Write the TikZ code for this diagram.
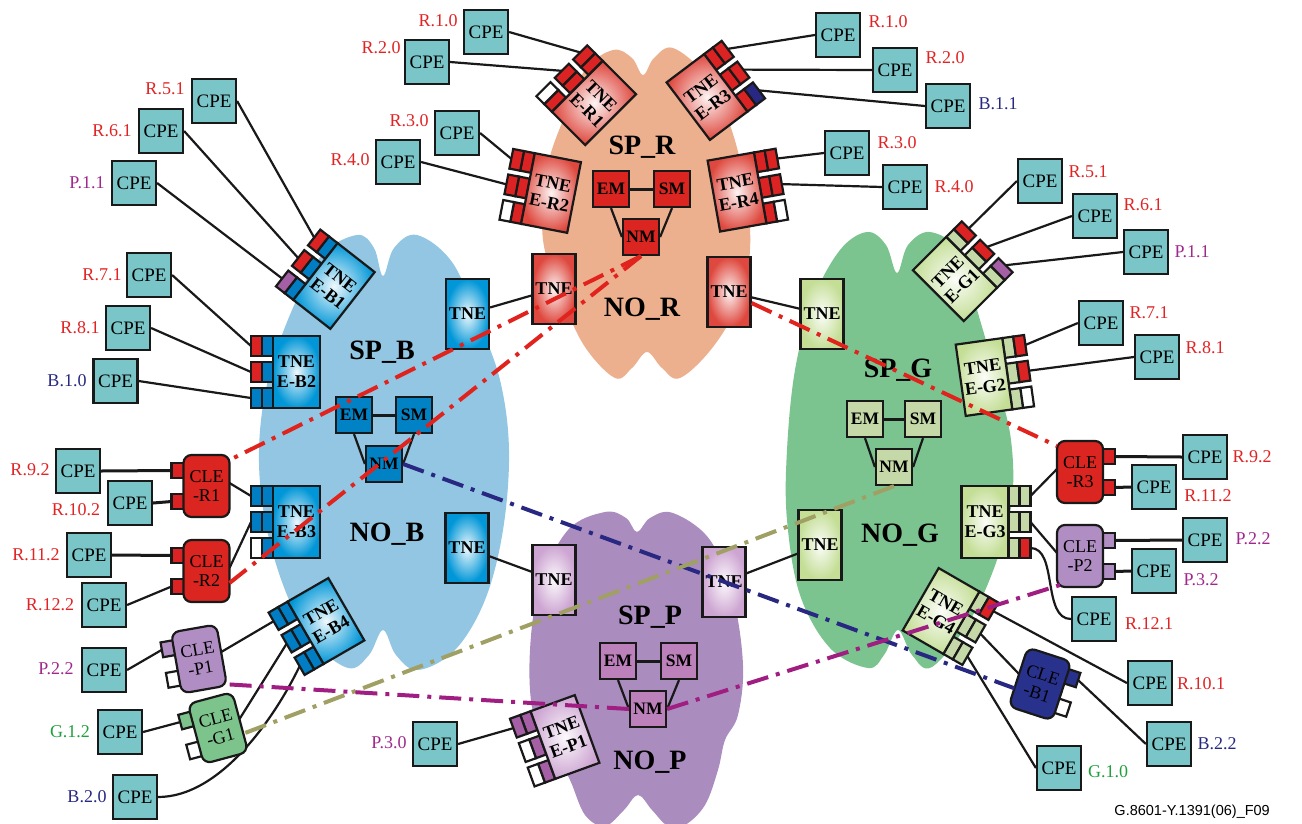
\documentclass[tikz,border=0pt]{standalone}
\usepackage{fontspec}
\setmainfont{Liberation Serif}
\newfontfamily\notefont{Liberation Sans}
\usetikzlibrary{calc}
\pgfdeclarelayer{clouds}
\pgfdeclarelayer{wires}
\pgfsetlayers{clouds,wires,main}

\definecolor{inkc}{RGB}{25,25,25}
\definecolor{cpefill}{RGB}{122,197,200}
\definecolor{cloudR}{RGB}{237,176,143}
\definecolor{cloudB}{RGB}{146,198,226}
\definecolor{cloudG}{RGB}{123,196,144}
\definecolor{cloudP}{RGB}{170,140,190}
\definecolor{mgR}{RGB}{218,37,33}
\definecolor{mgB}{RGB}{0,130,196}
\definecolor{mgG}{RGB}{196,216,168}
\definecolor{mgP}{RGB}{188,128,186}
\definecolor{ptR}{RGB}{220,35,35}
\definecolor{ptB}{RGB}{0,125,195}
\definecolor{ptG}{RGB}{196,216,168}
\definecolor{ptP}{RGB}{165,95,165}
\definecolor{ptN}{RGB}{40,40,130}
\definecolor{shR}{RGB}{222,72,62}
\definecolor{shB}{RGB}{0,150,215}
\definecolor{shG}{RGB}{196,222,150}
\definecolor{shP}{RGB}{205,165,210}
\definecolor{cleP}{RGB}{176,142,196}
\definecolor{cleG}{RGB}{125,195,140}
\definecolor{cleN}{RGB}{40,50,140}
\definecolor{txR}{RGB}{225,35,35}
\definecolor{txB}{RGB}{40,40,130}
\definecolor{txP}{RGB}{160,40,140}
\definecolor{txG}{RGB}{30,160,60}
\definecolor{dashR}{RGB}{225,35,30}
\definecolor{dashN}{RGB}{40,40,130}
\definecolor{dashO}{RGB}{160,160,100}
\definecolor{dashP}{RGB}{160,30,130}

% edge TNE: #1 side of the ports (1 right, -1 left), #2 second text line,
% #3 body shade, #4 inner port cell, #5-#7 outer port cells (top to bottom)
\newcommand\edgetne[7]{%
  \foreach \yy/\oc in {-26/#5,0/#6,26/#7}{
    \filldraw[box, fill=#4] (#1*23.5,\yy-10) rectangle (#1*34.5,\yy+10);
    \filldraw[box, fill=\oc] (#1*34.5,\yy-10) rectangle (#1*45.5,\yy+10);
  }
  \shadedraw[box, inner color=#3!6, outer color=#3] (-23.5,-36) rectangle (23.5,36);
  \node[tnetext] (-t) at (0,0) {TNE\\#2};
  \coordinate (-p1) at (#1*45.5,-26);
  \coordinate (-p2) at (#1*45.5,0);
  \coordinate (-p3) at (#1*45.5,26);
}
% customer edge box: #1 side of the ports, #2 second text line, #3 fill, #4 #5 port fills
\newcommand\clebox[5]{%
  \filldraw[box, fill=#4] (#1*22,-23) rectangle (#1*35,-8);
  \filldraw[box, fill=#5] (#1*22,8) rectangle (#1*35,23);
  \filldraw[box, fill=#3, rounded corners=8pt] (-23,-31) rectangle (23,31);
  \node[cletext] (-t) at (0,0) {CLE\\#2};
  \coordinate (-p1) at (#1*35,-15.5);
  \coordinate (-p2) at (#1*35,15.5);
  \coordinate (-bt) at ({(#1)*(-23)},-26);
  \coordinate (-bm) at ({(#1)*(-23)},-3);
  \coordinate (-bl) at ({(#1)*(-23)},12);
  \coordinate (-bc) at ({(#1)*(-20)},29);
}

\tikzset{
  box/.style={draw=inkc, line width=2.2pt},
  cpe/.style={box, fill=cpefill, minimum width=44pt, minimum height=44pt, inner sep=0pt,
    font=\fontsize{19}{19}\selectfont},
  lbl/.style={font=\fontsize{18}{18}\selectfont, inner sep=0pt},
  mgmt/.style={box, minimum width=36pt, minimum height=36pt, inner sep=0pt,
    font=\bfseries\fontsize{17.5}{17.5}\selectfont},
  coretne/.style={box, minimum width=43pt, minimum height=70pt, inner sep=0pt,
    font=\bfseries\fontsize{18}{18}\selectfont},
  domtitle/.style={font=\bfseries\fontsize{28}{28}\selectfont, inner sep=0pt},
  wire/.style={draw=inkc, line width=2.2pt},
  thickwire/.style={draw=inkc, line width=3pt},
  mgmtlink/.style={line width=4pt, dash pattern=on 22pt off 8pt on 4pt off 8pt},
  tnetext/.style={font=\bfseries\fontsize{18}{20}\selectfont, align=center, inner sep=0pt, transform shape},
  cletext/.style={font=\fontsize{18}{19.5}\selectfont, align=center, inner sep=0pt, transform shape},
  pics/tne/.style n args={7}{code={\edgetne{#1}{#2}{#3}{#4}{#5}{#6}{#7}}},
  pics/cle/.style n args={5}{code={\clebox{#1}{#2}{#3}{#4}{#5}}},
}

\begin{document}
\begin{tikzpicture}[x=1pt,y=-1pt]
\useasboundingbox (0,0) rectangle (1302,823);

% ---------- provider clouds ----------
\begin{pgfonlayer}{clouds}
\fill[cloudR] plot[smooth cycle, tension=0.6] coordinates {(613,50) (632,58) (643,75) (654,58) (673,48) (705,75) (730,125) (746,190) (750,250) (740,300) (713,347) (680,378) (662,368) (647,352) (632,368) (615,378) (585,347) (563,300) (543,240) (547,170) (563,120) (585,70)};
\fill[cloudB] plot[smooth cycle, tension=0.6] coordinates {(357,235) (374,248) (383,276) (394,248) (417,235) (452,262) (478,320) (500,380) (509,450) (503,530) (485,600) (455,650) (418,670) (396,655) (383,630) (369,655) (348,668) (312,640) (285,590) (265,520) (259,450) (268,380) (292,310) (322,255)};
\fill[cloudG] plot[smooth cycle, tension=0.6] coordinates {(867,232) (886,245) (897,273) (908,245) (930,232) (958,252) (980,320) (998,385) (1011,440) (1012,500) (997,560) (970,620) (932,667) (912,655) (898,630) (884,655) (868,668) (830,648) (800,595) (787,520) (787,450) (795,370) (813,300) (840,250)};
\fill[cloudP] plot[smooth cycle, tension=0.6] coordinates {(605,512) (626,518) (637,532) (650,518) (673,513) (710,540) (733,597) (743,665) (738,715) (725,740) (718,770) (705,805) (685,825) (668,826) (652,810) (638,795) (624,810) (605,826) (585,815) (570,780) (553,748) (533,712) (530,650) (540,585) (568,530)};
\end{pgfonlayer}

% ---------- domain titles ----------
\node[domtitle] (spR) at (642,147) {SP\_R};
\node[domtitle] (noR) at (642,309) {NO\_R};
\node[domtitle] (spB) at (382,352) {SP\_B};
\node[domtitle] (noB) at (387,534) {NO\_B};
\node[domtitle] (spG) at (898,370) {SP\_G};
\node[domtitle] (noG) at (900,535) {NO\_G};
\node[domtitle] (spP) at (650,617) {SP\_P};
\node[domtitle] (noP) at (650,762) {NO\_P};

% ---------- management ----------
\node[mgmt, fill=mgR] (emR) at (611,189) {EM};
\node[mgmt, fill=mgR] (smR) at (672,189) {SM};
\node[mgmt, fill=mgR] (nmR) at (641,237) {NM};
\node[mgmt, fill=mgB] (emB) at (354,415) {EM};
\node[mgmt, fill=mgB] (smB) at (414,415) {SM};
\node[mgmt, fill=mgB] (nmB) at (384,464) {NM};
\node[mgmt, fill=mgG] (emG) at (865,419) {EM};
\node[mgmt, fill=mgG] (smG) at (923,419) {SM};
\node[mgmt, fill=mgG] (nmG) at (894,467) {NM};
\node[mgmt, fill=mgP] (emP) at (618,661) {EM};
\node[mgmt, fill=mgP] (smP) at (679,661) {SM};
\node[mgmt, fill=mgP] (nmP) at (648,709) {NM};

% ---------- border TNEs ----------
\node[coretne, inner color=shB!6, outer color=shB] (btne1) at (467.5,314) {TNE};
\node[coretne, inner color=shB!6, outer color=shB] (btne2) at (467,548) {TNE};
\node[coretne, inner color=shR!6, outer color=shR] (rtne1) at (554,289) {TNE};
\node[coretne, inner color=shR!6, outer color=shR] (rtne2) at (729,292) {TNE};
\node[coretne, inner color=shG!6, outer color=shG] (gtne1) at (822,314) {TNE};
\node[coretne, inner color=shG!6, outer color=shG] (gtne2) at (820,545) {TNE};
\node[coretne, inner color=shP!6, outer color=shP] (ptne1) at (554,580) {TNE};
\node[coretne, inner color=shP!6, outer color=shP] (ptne2) at (724,582) {TNE};

% ---------- edge TNEs ----------
\pic[rotate=-45] (er1) at (594,103) {tne={-1}{E-R1}{shR}{ptR}{ptR}{ptR}{white}};
\pic[rotate=-11] (er2) at (551,193) {tne={-1}{E-R2}{shR}{ptR}{ptR}{ptR}{white}};
\pic[rotate=37]  (er3) at (707,97)  {tne={1}{E-R3}{shR}{ptR}{ptR}{ptR}{ptN}};
\pic[rotate=10]  (er4) at (737,192) {tne={1}{E-R4}{shR}{ptR}{ptR}{ptR}{white}};
\pic[rotate=-38] (eb1) at (334,286) {tne={-1}{E-B1}{shB}{ptB}{ptR}{ptR}{ptP}};
\pic             (eb2) at (296.5,372) {tne={-1}{E-B2}{shB}{ptB}{ptR}{ptR}{ptB}};
\pic             (eb3) at (296.5,522) {tne={-1}{E-B3}{shB}{ptB}{ptB}{ptB}{white}};
\pic[rotate=30]  (eb4) at (326,621) {tne={-1}{E-B4}{shB}{ptB}{ptB}{ptB}{ptB}};
\pic[rotate=45]  (eg1) at (955,279) {tne={1}{E-G1}{shG}{ptG}{ptR}{ptR}{ptP}};
\pic[rotate=8]   (eg2) at (984,377) {tne={1}{E-G2}{shG}{ptG}{ptR}{ptR}{white}};
\pic             (eg3) at (985,522) {tne={1}{E-G3}{shG}{ptG}{ptG}{ptG}{ptR}};
\pic[rotate=-30] (eg4) at (941,611) {tne={1}{E-G4}{shG}{ptG}{ptR}{ptG}{ptG}};
\pic[rotate=20]  (ep1) at (565,737) {tne={-1}{E-P1}{shP}{ptP}{ptP}{white}{white}};

% ---------- customer edge boxes ----------
\pic             (cler1) at (206.5,486) {cle={-1}{-R1}{mgR}{ptR}{ptR}};
\pic             (cler2) at (206.5,571) {cle={-1}{-R2}{mgR}{ptR}{ptR}};
\pic[rotate=10]  (clep1) at (199,659) {cle={-1}{-P1}{cleP}{cleP}{white}};
\pic[rotate=15]  (cleg1) at (218,728) {cle={-1}{-G1}{cleG}{cleG}{white}};
\pic             (cler3) at (1080,472) {cle={1}{-R3}{mgR}{ptR}{ptR}};
\pic             (clep2) at (1080,556) {cle={1}{-P2}{cleP}{cleP}{cleP}};
\pic[rotate=-18] (cleb1) at (1040,684) {cle={1}{-B1}{cleN}{cleN}{white}};

% ---------- customer premises equipment ----------
\node[cpe] (cR51L) at (214,101) {CPE};   \node[lbl, text=txR] (tR51L) at (165,89) {R.5.1};
\node[cpe] (cR61L) at (161,131) {CPE};   \node[lbl, text=txR] (tR61L) at (112,131) {R.6.1};
\node[cpe] (cP11L) at (134,183) {CPE};   \node[lbl, text=txP] (tP11L) at (87,183) {P.1.1};
\node[cpe] (cR71L) at (149,275) {CPE};   \node[lbl, text=txR] (tR71L) at (102,275) {R.7.1};
\node[cpe] (cR81L) at (128,328) {CPE};   \node[lbl, text=txR] (tR81L) at (80,328) {R.8.1};
\node[cpe] (cB10) at (115.5,381) {CPE};  \node[lbl, text=txB] (tB10) at (67,381) {B.1.0};
\node[cpe] (cR92L) at (78,471) {CPE};    \node[lbl, text=txR] (tR92L) at (30,470) {R.9.2};
\node[cpe] (cR102) at (130,503) {CPE};   \node[lbl, text=txR] (tR102) at (76,510) {R.10.2};
\node[cpe] (cR112L) at (89,555) {CPE};   \node[lbl, text=txR] (tR112L) at (36,555) {R.11.2};
\node[cpe] (cR122) at (104,605) {CPE};   \node[lbl, text=txR] (tR122) at (50,605) {R.12.2};
\node[cpe] (cP22L) at (104,670) {CPE};   \node[lbl, text=txP] (tP22L) at (56,669) {P.2.2};
\node[cpe] (cG12) at (120,732) {CPE};    \node[lbl, text=txG] (tG12) at (70,732) {G.1.2};
\node[cpe] (cB20) at (135,797) {CPE};    \node[lbl, text=txB] (tB20) at (87,797) {B.2.0};

\node[cpe] (cR10L) at (486,32) {CPE};    \node[lbl, text=txR] (tR10L) at (438,21) {R.1.0};
\node[cpe] (cR20L) at (427,62) {CPE};    \node[lbl, text=txR] (tR20L) at (381,48) {R.2.0};
\node[cpe] (cR30L) at (457,133) {CPE};   \node[lbl, text=txR] (tR30L) at (409,121) {R.3.0};
\node[cpe] (cR40L) at (398,162) {CPE};   \node[lbl, text=txR] (tR40L) at (350,160) {R.4.0};

\node[cpe] (cR10R) at (838,35) {CPE};    \node[lbl, text=txR] (tR10R) at (888,22) {R.1.0};
\node[cpe] (cR20R) at (895,70) {CPE};    \node[lbl, text=txR] (tR20R) at (945,58) {R.2.0};
\node[cpe] (cB11) at (948,106) {CPE};    \node[lbl, text=txB] (tB11) at (998,104) {B.1.1};
\node[cpe] (cR30R) at (847,153) {CPE};   \node[lbl, text=txR] (tR30R) at (897,143) {R.3.0};
\node[cpe] (cR40R) at (905,187) {CPE};   \node[lbl, text=txR] (tR40R) at (954,187) {R.4.0};

\node[cpe] (cR51R) at (1040,181) {CPE};  \node[lbl, text=txR] (tR51R) at (1088,172) {R.5.1};
\node[cpe] (cR61R) at (1095,216) {CPE};  \node[lbl, text=txR] (tR61R) at (1143,205) {R.6.1};
\node[cpe] (cP11R) at (1146,252) {CPE};  \node[lbl, text=txP] (tP11R) at (1192,252) {P.1.1};
\node[cpe] (cR71R) at (1101,323) {CPE};  \node[lbl, text=txR] (tR71R) at (1149,313) {R.7.1};
\node[cpe] (cR81R) at (1157,357) {CPE};  \node[lbl, text=txR] (tR81R) at (1205,348) {R.8.1};
\node[cpe] (cR92R) at (1205,457) {CPE};  \node[lbl, text=txR] (tR92R) at (1252,457) {R.9.2};
\node[cpe] (cR112R) at (1154,487) {CPE}; \node[lbl, text=txR] (tR112R) at (1208,496) {R.11.2};
\node[cpe] (cP22R) at (1205,540) {CPE};  \node[lbl, text=txP] (tP22R) at (1253,539) {P.2.2};
\node[cpe] (cP32) at (1154,571) {CPE};   \node[lbl, text=txP] (tP32) at (1201,580) {P.3.2};
\node[cpe] (cR121) at (1094,619) {CPE};  \node[lbl, text=txR] (tR121) at (1149,624) {R.12.1};
\node[cpe] (cR101) at (1150,683) {CPE};  \node[lbl, text=txR] (tR101) at (1201,684) {R.10.1};
\node[cpe] (cB22) at (1169,744) {CPE};   \node[lbl, text=txB] (tB22) at (1217,744) {B.2.2};
\node[cpe] (cG10) at (1059,768) {CPE};   \node[lbl, text=txG] (tG10) at (1108,772) {G.1.0};

\node[cpe] (cP30) at (435,744) {CPE};    \node[lbl, text=txP] (tP30) at (389,743) {P.3.0};

\node[font=\notefont\fontsize{14.5}{14.5}\selectfont, anchor=east, inner sep=0pt] (figid) at (1270,812) {G.8601-Y.1391(06)\_F09};

% ---------- links ----------
\begin{pgfonlayer}{wires}
% management triangles
\foreach \d in {R,B,G,P}{
  \draw[thickwire] (em\d) -- (sm\d);
  \draw[wire] (em\d.south) -- (nm\d.west);
  \draw[wire] (sm\d.south) -- (nm\d.east);
}
% inter-provider links
\draw[wire] (btne1) -- (rtne1);
\draw[wire] (rtne2) -- (gtne1);
\draw[wire] (btne2) -- (ptne1);
\draw[wire] (ptne2) -- (gtne2);
% SP_B access
\draw[wire] (cR51L.east) -- (eb1-p1);
\draw[wire] (cR61L.east) -- (eb1-p2);
\draw[wire] (cP11L.east) -- (eb1-p3);
\draw[wire] (cR71L.east) -- (eb2-p1);
\draw[wire] (cR81L.east) -- (eb2-p2);
\draw[wire] (cB10.east) -- (eb2-p3);
\draw[thickwire] (cR92L.east) -- (cler1-p1);
\draw[thickwire] (cR102.east) -- (cler1-p2);
\draw[thickwire] (cR112L.east) -- (cler2-p1);
\draw[wire] (cR122.east) -- (cler2-p2);
\draw[wire] (cler1-bm) -- (eb3-p1);
\draw[wire] (cler2-bm) -- (eb3-p2);
\draw[wire] (cP22L.east) -- (clep1-p1);
\draw[wire] (clep1-bm) -- (eb4-p1);
\draw[wire] (cG12.east) -- (cleg1-p1);
\draw[wire] (cleg1-bm) -- (eb4-p2);
\draw[wire] (cB20.east) .. controls (220,797) and (274,719) .. (eb4-p3);
% SP_R access
\draw[wire] (cR10L.east) -- (er1-p1);
\draw[wire] (cR20L.east) -- (er1-p2);
\draw[wire] (cR30L.east) -- (er2-p1);
\draw[wire] (cR40L.east) -- (er2-p2);
\draw[wire] (er3-p1) -- (cR10R.west);
\draw[wire] (er3-p2) -- (cR20R.west);
\draw[wire] (er3-p3) -- (cB11.west);
\draw[wire] (er4-p1) -- (cR30R.west);
\draw[wire] (er4-p2) -- (cR40R.west);
% SP_G access
\draw[wire] (eg1-p1) -- (cR51R.west);
\draw[wire] (eg1-p2) -- (cR61R.west);
\draw[wire] (eg1-p3) -- (cP11R.west);
\draw[wire] (eg2-p1) -- (cR71R.west);
\draw[wire] (eg2-p2) -- (cR81R.west);
\draw[wire] (eg3-p1) -- (cler3-bm);
\draw[wire] (eg3-p2) -- (clep2-bm);
\draw[wire] (eg3-p3) .. controls (1058,548) and (1042,619) .. (cR121.west);
\draw[thickwire] (cler3-p1) -- (cR92R.west);
\draw[thickwire] (cler3-p2) -- (cR112R.west);
\draw[thickwire] (clep2-p1) -- (cP22R.west);
\draw[thickwire] (clep2-p2) -- (cP32.west);
\draw[wire] (eg4-p1) -- (cR101.west);
\draw[wire] (eg4-p2) -- (cleb1-bm);
\draw[wire] (eg4-p3) -- (cG10.west);
\draw[wire] (cleb1-p1) -- (cB22.west);
% SP_P access
\draw[wire] (cP30.east) -- (ep1-p1);
\end{pgfonlayer}

% ---------- management reach (dash-dot) ----------
\draw[mgmtlink, draw=dashR] (nmR.south) -- (cler1-bt);
\draw[mgmtlink, draw=dashR] (nmR.south) -- (cler2-bl);
\draw[mgmtlink, draw=dashR] (rtne2.east) ++(0,11) -- (cler3-bt);
\draw[mgmtlink, draw=dashN] (nmB.east) -- (cleb1-bl);
\draw[mgmtlink, draw=dashO] (nmG.south) -- (cleg1-bl);
\draw[mgmtlink, draw=dashP] (nmP.west) -- (clep1-bc);
\draw[mgmtlink, draw=dashP] (nmP.east) -- (clep2-bc);
\end{tikzpicture}
\end{document}
